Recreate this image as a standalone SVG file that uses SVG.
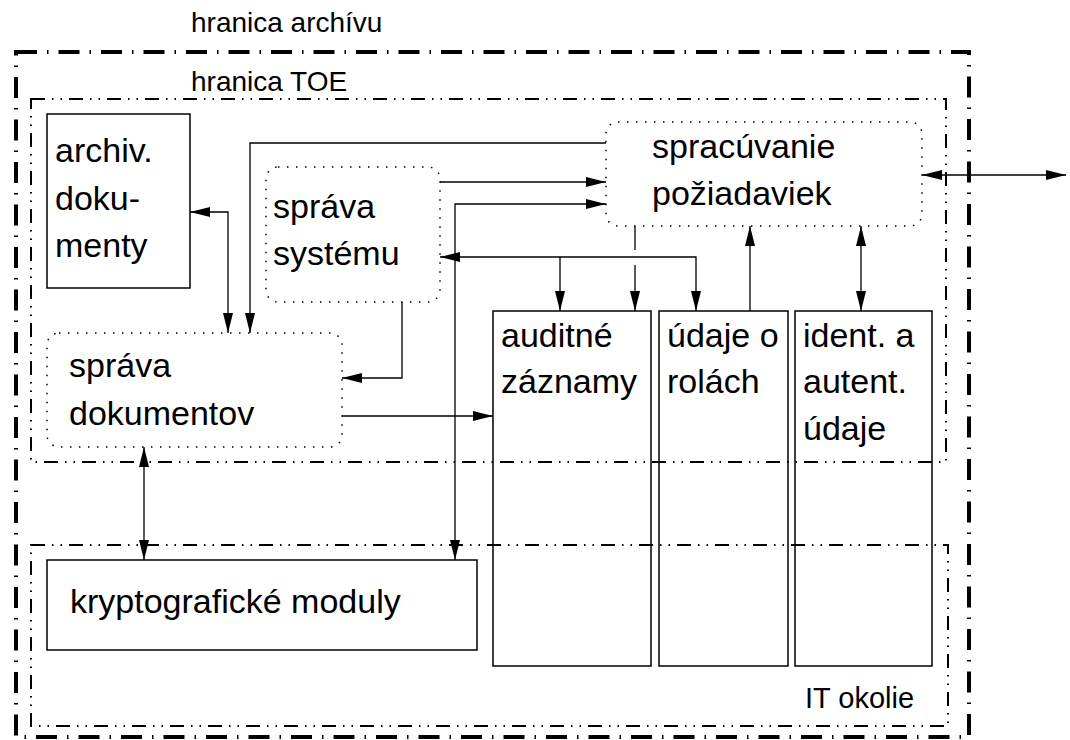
<svg xmlns="http://www.w3.org/2000/svg" width="1070" height="740" viewBox="0 0 1070 740">
  <style>
    .txt { font-family: "Liberation Sans", Arial, sans-serif; font-size: 34px; fill: #000; }
    .lbl { font-family: "Liberation Sans", Arial, sans-serif; font-size: 28px; fill: #000; }
    .box { fill: none; stroke: #000; stroke-width: 1.5; }
    .soft { fill: none; stroke: #000; stroke-width: 1.5; stroke-dasharray: 1.5 7.5; }
    .archive { fill: none; stroke: #000; stroke-width: 4; stroke-dasharray: 21 10 1.5 10; }
    .zone { fill: none; stroke: #000; stroke-width: 2; stroke-dasharray: 14 7 1.5 7 1.5 7; }
    .conn { fill: none; stroke: #000; stroke-width: 1.3; }
  </style>
  <defs>
    <marker id="head" viewBox="0 0 20 10" refX="20" refY="5" markerWidth="20" markerHeight="10" markerUnits="userSpaceOnUse" orient="auto-start-reverse">
      <path d="M0,0 L20,5 L0,10 z" fill="#000"/>
    </marker>
  </defs>
  <rect width="1070" height="740" fill="#fff"/>

  <!-- boundaries -->
  <g id="boundaries">
    <rect class="archive" x="16" y="52" width="953" height="685"/>
    <text class="lbl" x="191" y="32">hranica archívu</text>
    <rect class="zone" x="31" y="99" width="915" height="363"/>
    <text class="lbl" x="191" y="91">hranica TOE</text>
    <rect class="zone" x="31" y="545" width="917" height="181"/>
    <text class="lbl" x="805" y="708" style="font-size:29px">IT okolie</text>
  </g>

  <!-- connectors -->
  <g id="connectors">
    <path class="conn" d="M190,212 H228 V333" marker-start="url(#head)" marker-end="url(#head)"/>
    <path class="conn" d="M606,143 H250 V333" marker-end="url(#head)"/>
    <path class="conn" d="M440,182 H606" marker-end="url(#head)"/>
    <path class="conn" d="M455,560 V204 H606" marker-start="url(#head)" marker-end="url(#head)"/>
    <path class="conn" d="M440,257 H696 V311" marker-start="url(#head)" marker-end="url(#head)"/>
    <path class="conn" d="M560,257 V311" marker-end="url(#head)"/>
    <path class="conn" d="M635,226 V250"/>
    <path class="conn" d="M635,265 V311" marker-end="url(#head)"/>
    <path class="conn" d="M750,311 V226" marker-end="url(#head)"/>
    <path class="conn" d="M861,226 V311" marker-start="url(#head)" marker-end="url(#head)"/>
    <path class="conn" d="M922,175 H1066" marker-start="url(#head)" marker-end="url(#head)"/>
    <path class="conn" d="M402,302 V378 H342" marker-end="url(#head)"/>
    <path class="conn" d="M342,416 H493" marker-end="url(#head)"/>
    <path class="conn" d="M144,447 V560" marker-start="url(#head)" marker-end="url(#head)"/>
  </g>

  <!-- nodes -->
  <g id="archiv-dokumenty">
    <rect class="box" x="47" y="114" width="143" height="174"/>
    <text class="txt" x="55" y="162">archiv.</text>
    <text class="txt" x="55" y="210">doku-</text>
    <text class="txt" x="55" y="257">menty</text>
  </g>
  <g id="sprava-systemu">
    <rect class="soft" x="266" y="167" width="174" height="135" rx="12" ry="12"/>
    <text class="txt" x="273" y="218">správa</text>
    <text class="txt" x="273" y="265">systému</text>
  </g>
  <g id="sprava-dokumentov">
    <rect class="soft" x="47" y="333" width="295" height="114" rx="12" ry="12"/>
    <text class="txt" x="69" y="377">správa</text>
    <text class="txt" x="69" y="425">dokumentov</text>
  </g>
  <g id="spracuvanie-poziadaviek">
    <rect class="soft" x="606" y="122" width="316" height="104" rx="12" ry="12"/>
    <text class="txt" x="652" y="158">spracúvanie</text>
    <text class="txt" x="652" y="205">požiadaviek</text>
  </g>
  <g id="auditne-zaznamy">
    <rect class="box" x="493" y="311" width="158" height="355"/>
    <text class="txt" x="501" y="347">auditné</text>
    <text class="txt" x="501" y="393">záznamy</text>
  </g>
  <g id="udaje-o-rolach">
    <rect class="box" x="659" y="311" width="129" height="355"/>
    <text class="txt" x="667" y="347">údaje o</text>
    <text class="txt" x="667" y="393">rolách</text>
  </g>
  <g id="ident-autent-udaje">
    <rect class="box" x="795" y="311" width="137" height="355"/>
    <text class="txt" x="803" y="347">ident. a</text>
    <text class="txt" x="803" y="393">autent.</text>
    <text class="txt" x="803" y="440">údaje</text>
  </g>
  <g id="kryptograficke-moduly">
    <rect class="box" x="47" y="560" width="430" height="90"/>
    <text class="txt" x="70" y="613">kryptografické moduly</text>
  </g>
</svg>
